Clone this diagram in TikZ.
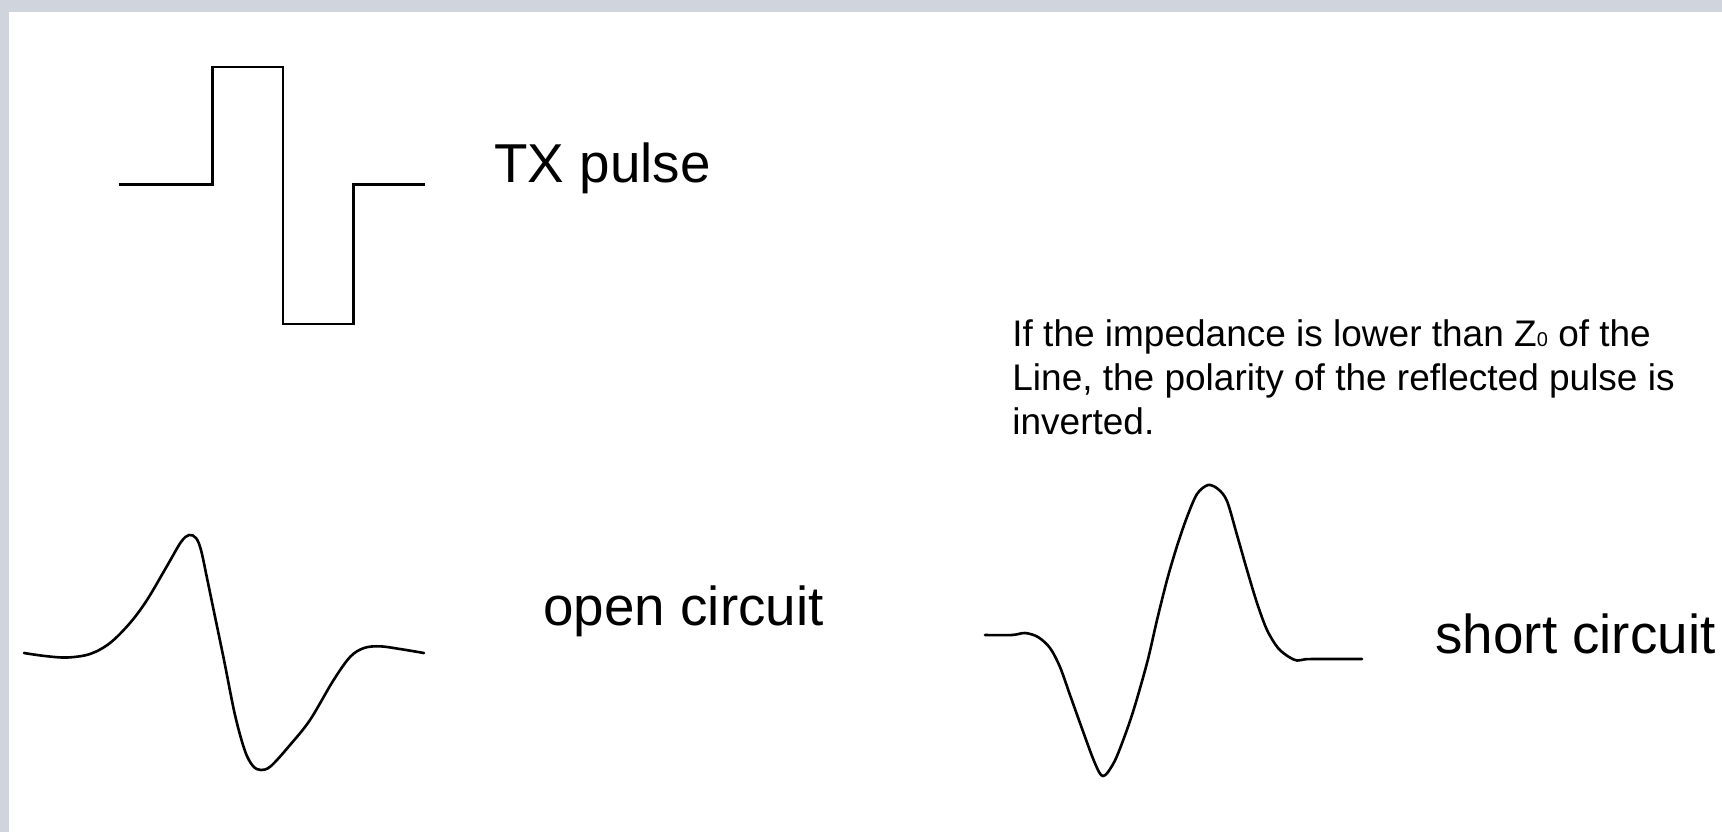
\documentclass[tikz,border=0pt]{standalone}
\usepackage{fontspec}
\setmainfont{Liberation Sans}
\definecolor{frame}{RGB}{208,212,220}
\newcommand{\smallzero}{{\fontsize{10pt}{10pt}\selectfont 0}}
\tikzset{
  wave/.style={line width=1.3pt, line join=miter, black},
  curvewave/.style={line width=1.3pt, black, line cap=round},
  biglabel/.style={anchor=base west, inner sep=0pt, font=\fontsize{27.4pt}{32pt}\selectfont},
  note/.style={anchor=base west, inner sep=0pt, font=\fontsize{18.5pt}{22pt}\selectfont},
}
\begin{document}
\begin{tikzpicture}[x=0.5pt,y=-0.5pt]
\useasboundingbox (0,0) rectangle (1722,832);
\fill[frame] (0,0) rectangle (1722,832);
\fill[white] (9,12) rectangle (1722,832);

% TX pulse
\coordinate (p0) at (118.6,184.5);
\coordinate (p1) at (212.4,184.5);
\coordinate (p2) at (212.4,66.8);
\coordinate (p3) at (283,66.8);
\coordinate (p4) at (283,324);
\coordinate (p5) at (353.6,324);
\coordinate (p6) at (353.6,184.5);
\coordinate (p7) at (424.5,184.5);
\draw[wave] (p0) -- (p1) -- (p2) -- (p3) -- (p4) -- (p5) -- (p6) -- (p7);
\node[biglabel] (tx) at (494,182) {TX pulse};

% open circuit
\draw[curvewave] plot[smooth, tension=0.55] coordinates {
  (24,653) (45,656) (67,657.5) (90,654) (110,643) (130,623) (147,600)
  (167,566) (181,542) (189,535) (196,538) (201,550) (207,578) (213,607)
  (224,660) (235,715) (245,751) (253,766) (261,770) (271,766) (290,745)
  (310,720) (333,681) (350,657) (364,648) (380,646.3) (400,649) (424,653)};
\node[biglabel] (oc) at (543,625) {open circuit};

% short circuit
\draw[curvewave] plot[smooth, tension=0.5] coordinates {
  (985,635) (1012,635) (1025,633) (1038,637) (1050,648) (1060,667)
  (1070,695) (1080,723) (1092,756) (1099,772) (1103,776) (1108,772)
  (1117,756) (1132,715) (1147,663) (1157,620) (1167,580) (1177,546)
  (1187,517) (1197,494) (1208,485) (1218,489) (1227,501) (1237,535)
  (1247,570) (1257,603) (1267,630) (1278,648) (1289,657) (1297,660.5)
  (1305,659.3) (1315,659) (1362,659)};
\node[biglabel] (sc) at (1435,653) {short circuit};

% note
\node[note] (n1) at (1012,346) {If the impedance is lower than Z\smallzero{} of the};
\node[note] (n2) at (1012,390) {Line, the polarity of the reflected pulse is};
\node[note] (n3) at (1012,434) {inverted.};
\end{tikzpicture}
\end{document}
